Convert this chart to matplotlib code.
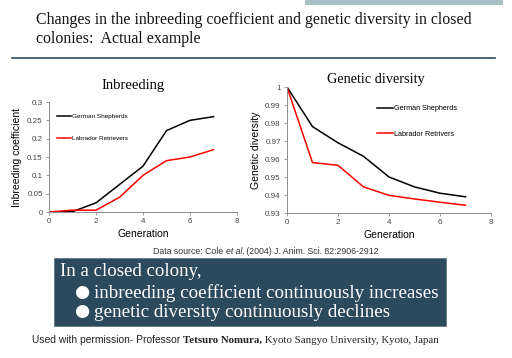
import matplotlib.pyplot as plt
from matplotlib.patches import Rectangle
from matplotlib.lines import Line2D

# Data
generations = [0, 1, 2, 3, 4, 5, 6, 7]
inbr_gsd = [0.0, 0.001, 0.025, 0.075, 0.125, 0.222, 0.25, 0.26]
inbr_lab = [0.0, 0.005, 0.005, 0.04, 0.10, 0.14, 0.15, 0.17]
div_gsd = [1.0, 0.978, 0.969, 0.9615, 0.950, 0.9445, 0.941, 0.939]
div_lab = [1.0, 0.958, 0.9565, 0.9445, 0.9398, 0.9378, 0.936, 0.9343]

inbr_yticks = [0, 0.05, 0.1, 0.15, 0.2, 0.25, 0.3]
inbr_ylabels = ["0", "0.05", "0.1", "0.15", "0.2", "0.25", "0.3"]
div_yticks = [0.93, 0.94, 0.95, 0.96, 0.97, 0.98, 0.99, 1.0]
div_ylabels = ["0.93", "0.94", "0.95", "0.96", "0.97", "0.98", "0.99", "1"]
xticks = [0, 2, 4, 6, 8]

W, H = 512, 358
fig = plt.figure(figsize=(W / 100, H / 100), dpi=100)
fig.patch.set_facecolor("white")

SERIF = "Liberation Serif"
SANS = "Liberation Sans"


def px_axes(x0, y0, x1, y1):
    # pixel box (top-left origin) -> figure axes
    return fig.add_axes([x0 / W, 1 - y1 / H, (x1 - x0) / W, (y1 - y0) / H])


def fx(x):
    return x / W


def fy(y):
    return 1 - y / H


# header decoration
fig.patches.append(Rectangle((fx(305), fy(5)), fx(198), 5 / H, transform=fig.transFigure,
                             facecolor="#a7c3c7", edgecolor="none"))
fig.add_artist(Line2D([fx(12), fx(495)], [fy(58), fy(58)], transform=fig.transFigure,
                      color="#2f4d63", lw=1.2))
fig.text(fx(36), fy(20), "Changes in the inbreeding coefficient and genetic diversity in closed",
         family=SERIF, fontsize=11.4, va="center", ha="left", color="#111111")
fig.text(fx(36), fy(39), "colonies:  Actual example",
         family=SERIF, fontsize=11.4, va="center", ha="left", color="#111111")


def style_axes(ax):
    for s in ["top", "right"]:
        ax.spines[s].set_visible(False)
    for s in ["left", "bottom"]:
        ax.spines[s].set_color("#8c8c8c")
        ax.spines[s].set_linewidth(0.7)
    ax.tick_params(axis="both", labelsize=5.8, colors="#8c8c8c", labelcolor="#444444",
                   length=2.5, width=0.6, pad=2)
    for lab in ax.get_xticklabels() + ax.get_yticklabels():
        lab.set_family(SANS)


# left chart: inbreeding coefficient
ax1 = px_axes(49, 102, 237, 212)
ax1.plot(generations, inbr_gsd, color="black", lw=1.1, label="German Shepherds")
ax1.plot(generations, inbr_lab, color="#ff0000", lw=1.1, label="Labrador Retrievers")
ax1.set_xlim(0, 8)
ax1.set_ylim(0, 0.3)
ax1.set_xticks(xticks)
ax1.set_yticks(inbr_yticks)
ax1.set_yticklabels(inbr_ylabels)
style_axes(ax1)
ax1.set_xlabel("Generation", family=SANS, fontsize=7.5, labelpad=3)
ax1.set_ylabel("Inbreeding coefficient", family=SANS, fontsize=7.5, labelpad=4)
ax1.legend(loc="upper left", bbox_to_anchor=(fx(57), fy(114)), bbox_transform=fig.transFigure,
           frameon=False, prop={"family": SANS, "size": 4.6}, handlelength=2.2,
           handletextpad=0.2, labelspacing=2.5, borderpad=0, borderaxespad=0)
fig.text(fx(133), fy(86), "Inbreeding", family=SERIF, fontsize=10.5, ha="center", va="center")

# right chart: genetic diversity
ax2 = px_axes(287, 87, 491, 213)
ax2.plot(generations, div_gsd, color="black", lw=1.1, label="German Shepherds")
ax2.plot(generations, div_lab, color="#ff0000", lw=1.1, label="Labrador Retrivers")
ax2.set_xlim(0, 8)
ax2.set_ylim(0.93, 1.0)
ax2.set_xticks(xticks)
ax2.set_yticks(div_yticks)
ax2.set_yticklabels(div_ylabels)
style_axes(ax2)
ax2.set_xlabel("Generation", family=SANS, fontsize=7.5, labelpad=3)
ax2.set_ylabel("Genetic diversity", family=SANS, fontsize=7.5, labelpad=3)
ax2.legend(loc="upper left", bbox_to_anchor=(fx(377), fy(105)), bbox_transform=fig.transFigure,
           frameon=False, prop={"family": SANS, "size": 5.2}, handlelength=2.2,
           handletextpad=0.15, labelspacing=2.6, borderpad=0, borderaxespad=0)
fig.text(fx(376), fy(80), "Genetic diversity", family=SERIF, fontsize=10.3, ha="center", va="center")

# data source line
t = fig.text(fx(153), fy(251), "Data source: Cole ", family=SANS, fontsize=6.3,
             color="#333333", va="center", ha="left")
t = plt.annotate("et al.", xy=(1, 0), xycoords=t, va="bottom", ha="left",
                 family=SANS, fontsize=6.3, style="italic", color="#333333")
plt.annotate(" (2004) J. Anim. Sci. 82:2906-2912", xy=(1, 0), xycoords=t, va="bottom",
             ha="left", family=SANS, fontsize=6.3, color="#333333")

# summary box
fig.patches.append(Rectangle((fx(54), fy(326)), fx(446 - 54), (326 - 258) / H,
                             transform=fig.transFigure, facecolor="#2c4a5e",
                             edgecolor="#5f7a8c", lw=0.6))
fig.text(fx(60), fy(272), "In a closed colony,", family=SERIF, fontsize=13.6,
         color="white", va="center", ha="left")
fig.text(fx(74), fy(292), "\u25cf", family="DejaVu Sans", fontsize=12.5,
         color="white", va="center", ha="left")
fig.text(fx(94), fy(293), "inbreeding coefficient continuously increases", family=SERIF,
         fontsize=13.7, color="white", va="center", ha="left")
fig.text(fx(74), fy(311.5), "\u25cf", family="DejaVu Sans", fontsize=12.5,
         color="white", va="center", ha="left")
fig.text(fx(94), fy(312.5), "genetic diversity continuously declines", family=SERIF,
         fontsize=13.7, color="white", va="center", ha="left")

# credit line
t = fig.text(fx(32), fy(340), "Used with permission- Professor ", family=SANS, fontsize=7.4,
             color="#222222", va="center", ha="left")
t = plt.annotate("Tetsuro Nomura,", xy=(1, 0), xycoords=t, va="bottom", ha="left",
                 family=SERIF, fontsize=7.8, weight="bold", color="#222222")
plt.annotate(" Kyoto Sangyo University, Kyoto, Japan", xy=(1, 0), xycoords=t, va="bottom",
             ha="left", family=SERIF, fontsize=7.8, color="#222222")

fig.savefig("out.png", dpi=100)
